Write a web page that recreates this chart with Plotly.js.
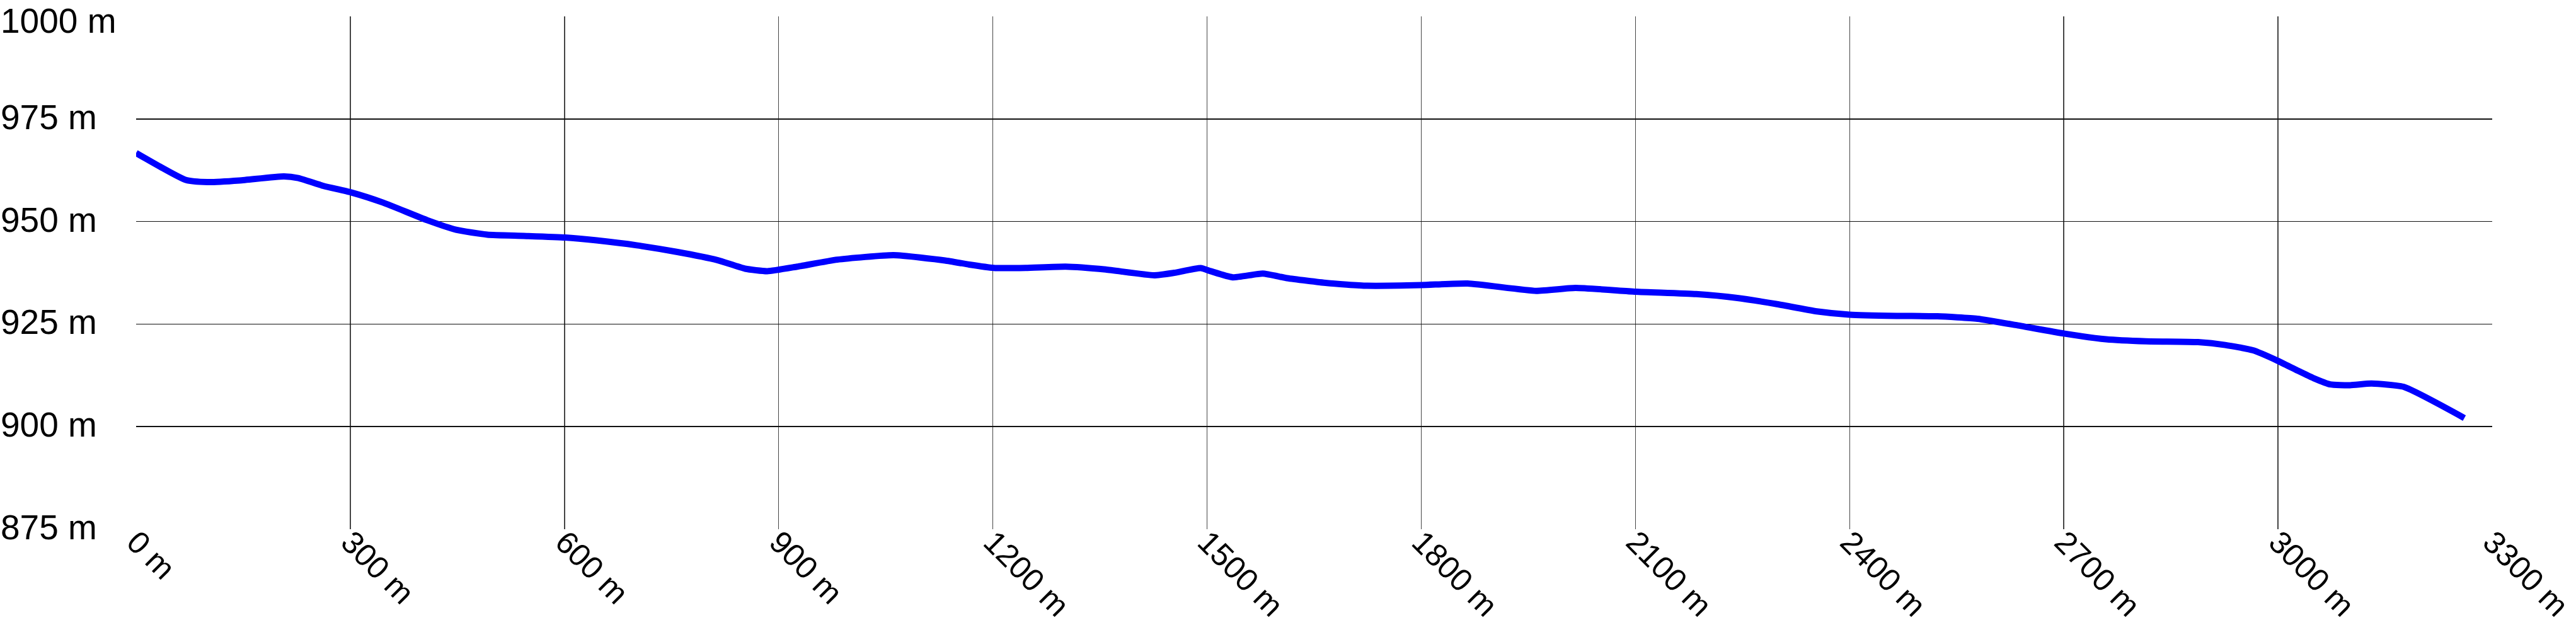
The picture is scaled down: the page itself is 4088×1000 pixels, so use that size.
<!DOCTYPE html>
<html>
<head>
<meta charset="utf-8">
<script src="https://cdn.plot.ly/plotly-3.0.1.min.js"></script>
<style>html,body{margin:0;padding:0;background:#fff;}#chart{width:4088px;height:1000px;}</style>
</head>
<body>
<div id="chart"></div>
<script>
// Distance along the route (m)
var distance = [0, 70, 100, 145, 207, 227, 262, 301, 346, 408, 448, 492, 543, 601, 645, 701, 757, 814, 853, 884, 926, 982, 1061, 1133, 1167, 1201, 1246, 1302, 1358, 1426, 1454, 1491, 1505, 1536, 1578, 1612, 1668, 1724, 1800, 1865, 1961, 2016, 2100, 2185, 2241, 2297, 2354, 2400, 2466, 2523, 2579, 2635, 2700, 2759, 2815, 2888, 2926, 2965, 2999, 3027, 3050, 3073, 3101, 3131, 3176, 3261];
// Elevation (m)
var elevation = [966.7, 960.1, 959.6, 960.0, 961.0, 960.6, 958.7, 957.1, 954.6, 950.3, 948.0, 946.8, 946.5, 946.1, 945.4, 944.2, 942.6, 940.6, 938.5, 937.9, 939.0, 940.7, 941.8, 940.5, 939.5, 938.7, 938.7, 939.0, 938.3, 936.9, 937.5, 938.65, 937.9, 936.4, 937.3, 936.2, 935.0, 934.35, 934.5, 934.9, 933.1, 933.8, 932.9, 932.3, 931.4, 929.9, 928.1, 927.3, 927.0, 926.9, 926.3, 924.7, 922.7, 921.3, 920.8, 920.6, 919.9, 918.6, 916.1, 913.7, 911.8, 910.3, 910.1, 910.5, 909.7, 902.1];

var xTickVals = [0, 300, 600, 900, 1200, 1500, 1800, 2100, 2400, 2700, 3000, 3300];
var xTickText = ["0 m", "300 m", "600 m", "900 m", "1200 m", "1500 m", "1800 m", "2100 m", "2400 m", "2700 m", "3000 m", "3300 m"];
var yTickVals = [875, 900, 925, 950, 975, 1000];
var yTickText = ["875 m", "900 m", "925 m", "950 m", "975 m", "1000 m"];

var FONT = 'Liberation Sans, Arial, sans-serif';

var trace = {
  x: distance,
  y: elevation,
  type: 'scatter',
  mode: 'lines',
  line: {color: '#0000ff', width: 10, shape: 'spline', smoothing: 0.5},
  hoverinfo: 'skip'
};

// Left-aligned y-axis labels, built from the tick arrays
var topTick = yTickVals[yTickVals.length - 1];
var yLabels = yTickVals.map(function (v, i) {
  return {
    xref: 'paper', yref: 'y',
    x: 0, y: v,
    xanchor: 'left', yanchor: 'middle',
    yshift: v === topTick ? -7 : 3,
    borderpad: 0,
    text: yTickText[i],
    showarrow: false,
    font: {family: FONT, size: 55, color: '#000000'}
  };
});

var layout = {
  width: 4088,
  height: 1000,
  margin: {l: 0, r: 0, t: 26, b: 160, pad: 0},
  paper_bgcolor: '#ffffff',
  plot_bgcolor: '#ffffff',
  showlegend: false,
  font: {family: FONT, size: 55, color: '#000000'},
  annotations: yLabels,
  xaxis: {
    domain: [216 / 4088, 3955 / 4088],
    range: [0, 3300],
    tickmode: 'array',
    tickvals: xTickVals,
    ticktext: xTickText,
    tickangle: 45,
    ticks: '',
    ticklabelstandoff: -20,
    showgrid: true,
    gridcolor: '#444444',
    gridwidth: 1.5,
    zeroline: false,
    showline: false,
    automargin: false,
    tickfont: {family: FONT, size: 50, color: '#000000'}
  },
  yaxis: {
    range: [875, 1000],
    tickmode: 'array',
    tickvals: yTickVals,
    showticklabels: false,
    ticks: '',
    showgrid: true,
    gridcolor: '#111111',
    gridwidth: 1.5,
    zeroline: false,
    showline: false,
    automargin: false
  }
};

Plotly.newPlot('chart', [trace], layout, {displayModeBar: false, staticPlot: true});
</script>
</body>
</html>
